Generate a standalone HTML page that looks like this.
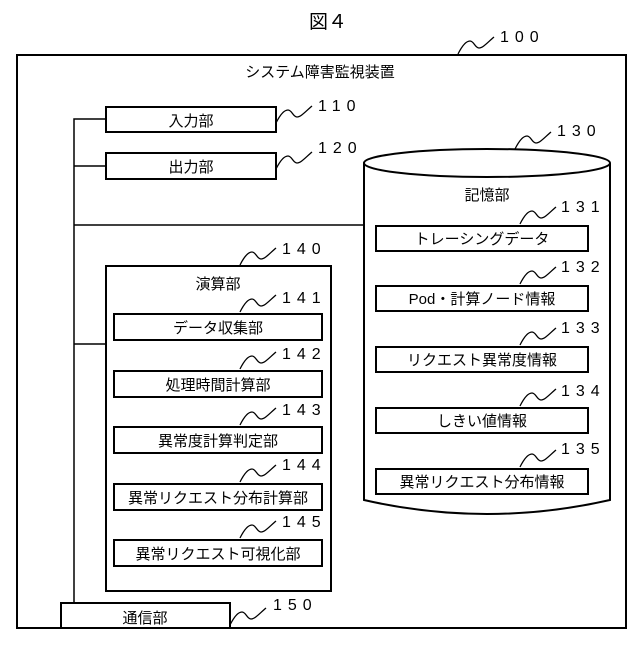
<!DOCTYPE html>
<html><head><meta charset="utf-8"><style>
body{margin:0;background:#fff}
svg text{font-family:"Liberation Sans","Noto Sans CJK JP",sans-serif;fill:#000}
.l{font-size:15px;text-anchor:middle}
.n{font-size:16px;letter-spacing:6px;font-family:"Liberation Sans",sans-serif}
</style></head><body>
<svg width="640" height="640" viewBox="0 0 640 640" xmlns="http://www.w3.org/2000/svg">
<defs><path id="sq" d="M0,0 C4,-8 8,-13 12,-13 C16,-13 17,-6 21,-6 C25,-6 30,-12 36,-17" fill="none" stroke="#000" stroke-width="1.3"/></defs>
<g fill="none" stroke="#000" stroke-width="2">
<rect x="17" y="55" width="609" height="573"/>
<rect x="106" y="107" width="170" height="25"/>
<rect x="106" y="153" width="170" height="26"/>
<path d="M106,119 H74 V602 M106,166 H74 M74,225 H364 M74,344 H106" stroke-width="1.5"/>
<path d="M364,163 V500 Q487,528 610,500 V163"/>
<ellipse cx="487" cy="163" rx="123" ry="14" fill="#fff"/>
<rect x="376" y="226" width="212" height="25"/>
<rect x="376" y="286" width="212" height="25"/>
<rect x="376" y="347" width="212" height="25"/>
<rect x="376" y="408" width="212" height="25"/>
<rect x="376" y="469" width="212" height="25"/>
<rect x="106" y="266" width="225" height="325"/>
<rect x="114" y="314" width="208" height="26"/>
<rect x="114" y="371" width="208" height="26"/>
<rect x="114" y="427" width="208" height="26"/>
<rect x="114" y="484" width="208" height="26"/>
<rect x="114" y="540" width="208" height="26"/>
<rect x="61" y="603" width="169" height="25" fill="#fff"/>
</g>
<use href="#sq" x="458" y="54"/>
<use href="#sq" x="276" y="123"/>
<use href="#sq" x="276" y="169"/>
<use href="#sq" x="515" y="149"/>
<use href="#sq" x="520" y="224"/>
<use href="#sq" x="520" y="284"/>
<use href="#sq" x="520" y="345"/>
<use href="#sq" x="520" y="406"/>
<use href="#sq" x="520" y="467"/>
<use href="#sq" x="240" y="265"/>
<use href="#sq" x="240" y="312"/>
<use href="#sq" x="240" y="369"/>
<use href="#sq" x="240" y="425"/>
<use href="#sq" x="240" y="482"/>
<use href="#sq" x="240" y="538"/>
<use href="#sq" x="230" y="625"/>
<text x="328" y="28" class="l" style="font-size:19px">図４</text>
<text x="320" y="77" class="l">システム障害監視装置</text>
<text x="191" y="126" class="l">入力部</text>
<text x="191" y="172" class="l">出力部</text>
<text x="487" y="200" class="l">記憶部</text>
<text x="482" y="244" class="l">トレーシングデータ</text>
<text x="482" y="304" class="l">Pod・計算ノード情報</text>
<text x="482" y="365" class="l">リクエスト異常度情報</text>
<text x="482" y="426" class="l">しきい値情報</text>
<text x="482" y="487" class="l">異常リクエスト分布情報</text>
<text x="218" y="289" class="l">演算部</text>
<text x="218" y="333" class="l">データ収集部</text>
<text x="218" y="390" class="l">処理時間計算部</text>
<text x="218" y="446" class="l">異常度計算判定部</text>
<text x="218" y="503" class="l">異常リクエスト分布計算部</text>
<text x="218" y="559" class="l">異常リクエスト可視化部</text>
<text x="145" y="623" class="l">通信部</text>
<text x="500" y="42" class="n">100</text>
<text x="318" y="111" class="n">110</text>
<text x="318" y="153" class="n">120</text>
<text x="557" y="136" class="n">130</text>
<text x="561" y="212" class="n">131</text>
<text x="561" y="272" class="n">132</text>
<text x="561" y="333" class="n">133</text>
<text x="561" y="396" class="n">134</text>
<text x="561" y="454" class="n">135</text>
<text x="282" y="254" class="n">140</text>
<text x="282" y="303" class="n">141</text>
<text x="282" y="359" class="n">142</text>
<text x="282" y="415" class="n">143</text>
<text x="282" y="470" class="n">144</text>
<text x="282" y="527" class="n">145</text>
<text x="273" y="610" class="n">150</text>
</svg>
</body></html>
